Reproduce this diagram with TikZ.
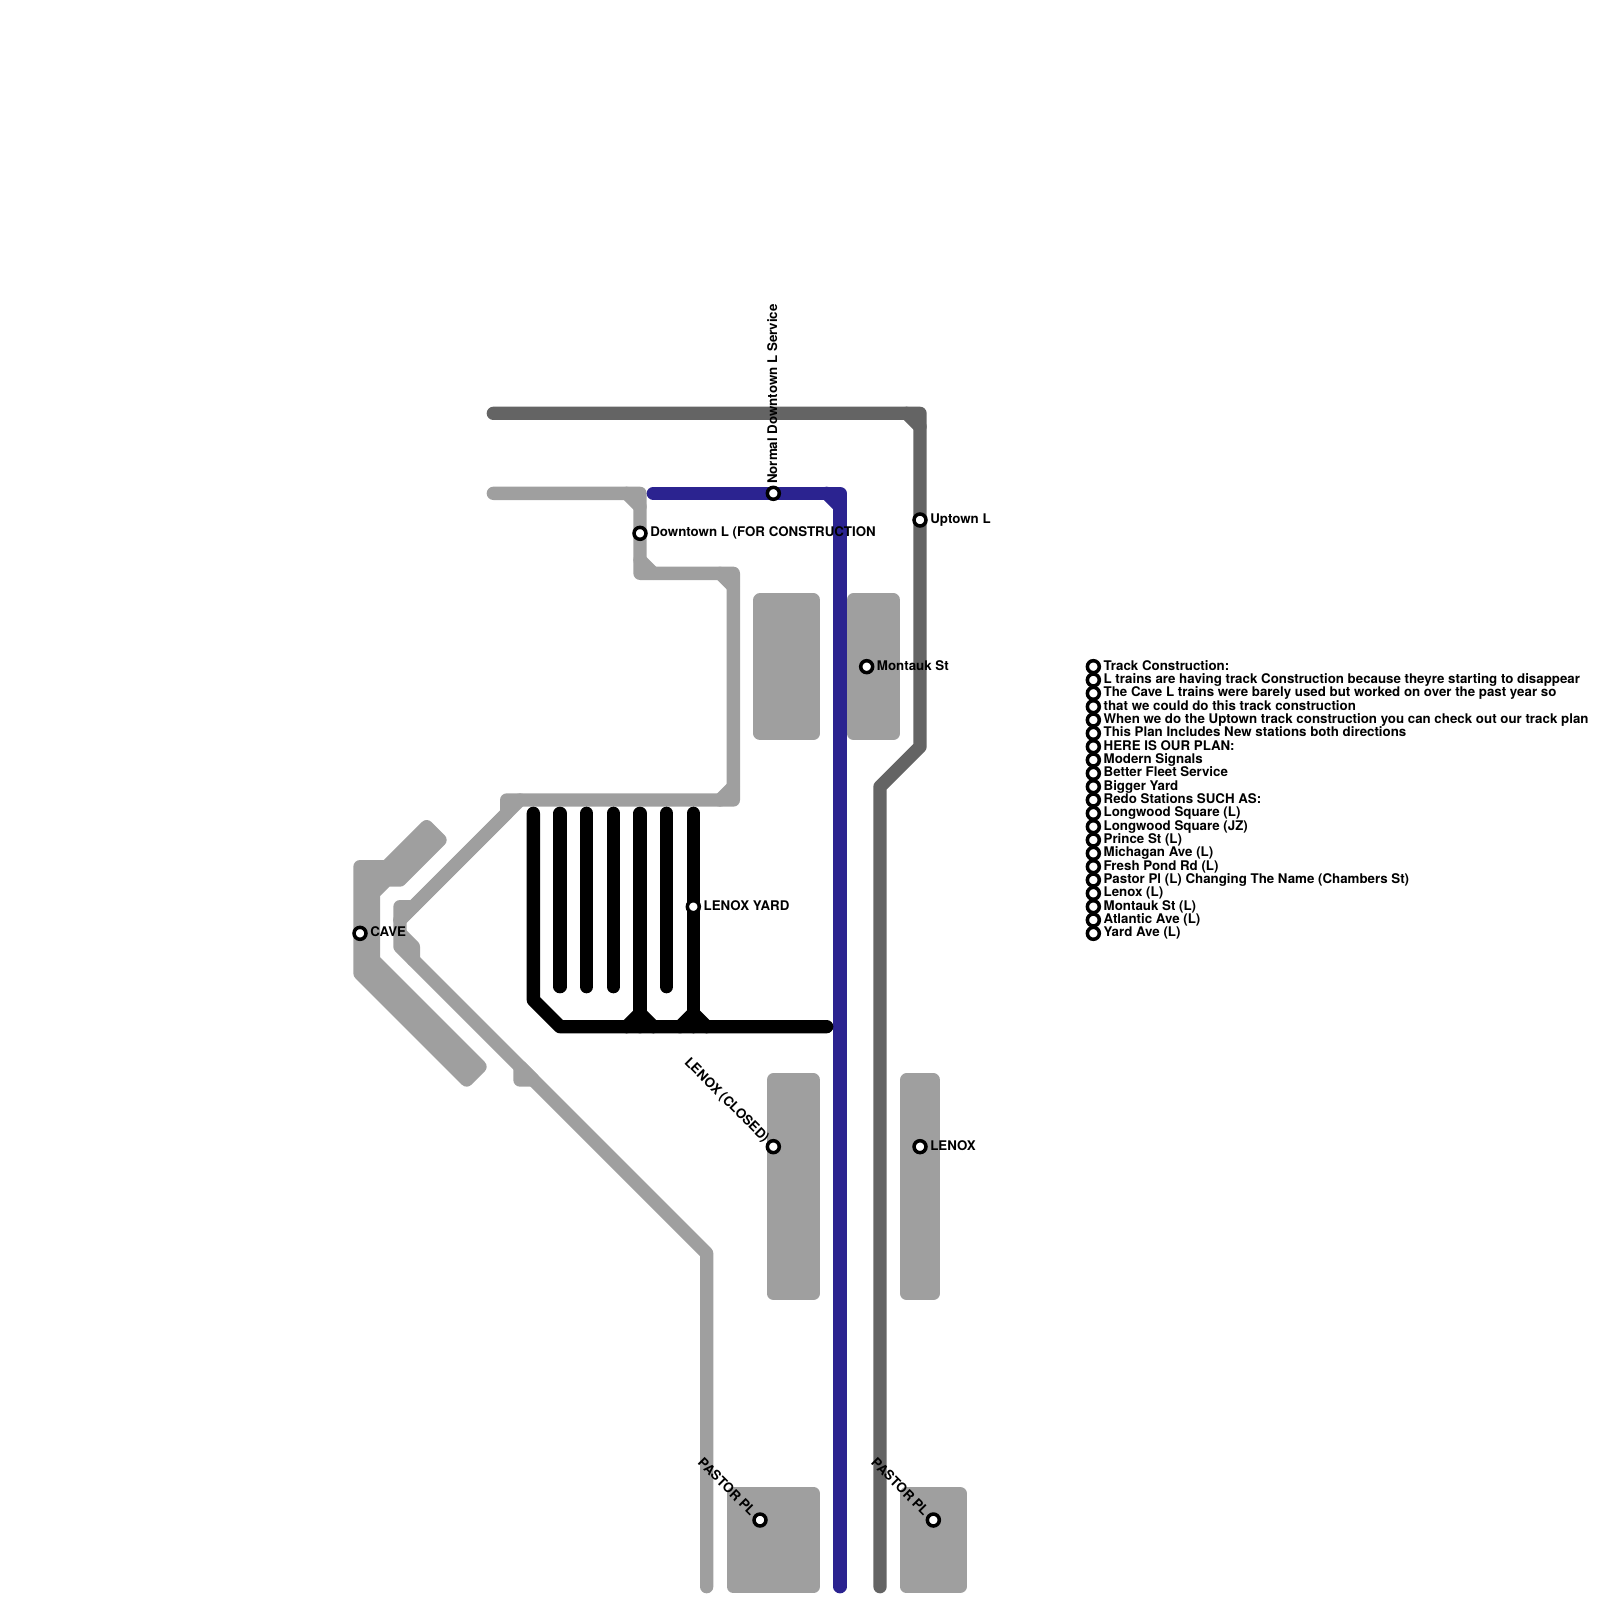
\documentclass[tikz,border=0pt]{standalone}
\usepackage{fontspec}
\setmainfont{TeX Gyre Heros}
\usetikzlibrary{positioning}
\definecolor{lightline}{HTML}{9F9F9F}
\definecolor{darkline}{HTML}{646464}
\definecolor{blueline}{HTML}{2B2390}
\tikzset{
  track/.style={line width=0.2cm,line cap=round,line join=round},
  block/.style={track,draw=lightline,fill=lightline},
  station/.style={circle,draw=black,fill=white,line width=1.5pt,inner sep=0pt,minimum size=5.1pt},
  stlabel/.style={font=\fontsize{5.68pt}{6pt}\selectfont\bfseries,inner sep=0pt,text=black,text height=5.1pt,text depth=1pt,yshift=0.5pt},
}
\begin{document}
\begin{tikzpicture}[x=0.2cm,y=-0.2cm]
\useasboundingbox (0,0) rectangle (120,120);

% light track
\draw[track,lightline] (37,37) -- (48,37) -- (48,43) -- (55,43) -- (55,60) -- (38,60) -- (38,61) -- (30,69);
\draw[track,lightline] (47,37) -- (48,38);
\draw[track,lightline] (48,42) -- (49,43);
\draw[track,lightline] (54,43) -- (55,44);
\draw[track,lightline] (55,59) -- (54,60);
\draw[track,lightline] (39,60) -- (30,69);
\draw[track,lightline] (31,68) -- (30,68) -- (30,71) -- (53,94) -- (53,119);
\draw[track,lightline] (30,70) -- (31,71) -- (31,72);
\draw[block] (39,80) -- (39,81) -- (40,81) -- cycle;

% cave platform
\draw[block] (27,65) -- (29,65) -- (32,62) -- (33,63) -- (30,66) -- (29,66) -- (28,67) -- (28,72) -- (36,80) -- (35,81) -- (27,73) -- cycle;

% platforms
\draw[block] (57,45) rectangle (61,55);
\draw[block] (64,45) rectangle (67,55);
\draw[block] (58,81) rectangle (61,97);
\draw[block] (68,81) rectangle (70,97);
\draw[block] (55,112) rectangle (61,119);
\draw[block] (68,112) rectangle (72,119);

% uptown track
\draw[track,darkline] (37,31) -- (69,31) -- (69,56) -- (66,59) -- (66,119);
\draw[track,darkline] (68,31) -- (69,32);

% downtown track
\draw[track,blueline] (49,37) -- (63,37) -- (63,119);
\draw[track,blueline] (62,37) -- (63,38);

% yard
\draw[track,black] (40,61) -- (40,75) -- (42,77) -- (62,77);
\draw[track,black] (42,61) -- (42,74);
\draw[track,black] (44,61) -- (44,74);
\draw[track,black] (46,61) -- (46,74);
\draw[track,black] (48,61) -- (48,77);
\draw[track,black] (50,61) -- (50,74);
\draw[track,black] (52,61) -- (52,77);
\draw[track,black] (47,77) -- (48,76) -- (49,77);
\draw[track,black] (51,77) -- (52,76) -- (53,77);

% stations
\node[station] (normal) at (58,37) {};
\node[station] (downtown) at (48,40) {};
\node[station] (uptown) at (69,39) {};
\node[station] (montauk) at (65,50) {};
\node[station] (yard) at (52,68) {};
\node[station] (cave) at (27,70) {};
\node[station] (closed) at (58,86) {};
\node[station] (lenox) at (69,86) {};
\node[station] (pastora) at (57,114) {};
\node[station] (pastorb) at (70,114) {};

\node[stlabel,rotate=90,anchor=west] at ([xshift=-0.4pt]normal.north) {Normal Downtown L Service};
\node[stlabel,right=0.9pt of downtown] {Downtown L (FOR CONSTRUCTION};
\node[stlabel,right=0.9pt of uptown] {Uptown L};
\node[stlabel,right=0.9pt of montauk] {Montauk St};
\node[stlabel,right=0.9pt of yard] {LENOX YARD};
\node[stlabel,right=0.9pt of cave] {CAVE};
\node[stlabel,rotate=-45,anchor=east] at ([xshift=-0.1pt]closed.north west) {LENOX (CLOSED)};
\node[stlabel,right=0.9pt of lenox] {LENOX};
\node[stlabel,rotate=-45,anchor=east] at ([xshift=-0.3pt,yshift=0pt]pastora.north west) {PASTOR PL};
\node[stlabel,rotate=-45,anchor=east] at ([xshift=-0.3pt,yshift=0pt]pastorb.north west) {PASTOR PL};

% notes
\node[station] (n1) at (82,50) {};
\node[station] (n2) at (82,51) {};
\node[station] (n3) at (82,52) {};
\node[station] (n4) at (82,53) {};
\node[station] (n5) at (82,54) {};
\node[station] (n6) at (82,55) {};
\node[station] (n7) at (82,56) {};
\node[station] (n8) at (82,57) {};
\node[station] (n9) at (82,58) {};
\node[station] (n10) at (82,59) {};
\node[station] (n11) at (82,60) {};
\node[station] (n12) at (82,61) {};
\node[station] (n13) at (82,62) {};
\node[station] (n14) at (82,63) {};
\node[station] (n15) at (82,64) {};
\node[station] (n16) at (82,65) {};
\node[station] (n17) at (82,66) {};
\node[station] (n18) at (82,67) {};
\node[station] (n19) at (82,68) {};
\node[station] (n20) at (82,69) {};
\node[station] (n21) at (82,70) {};

\node[stlabel,right=0.9pt of n1] {Track Construction:};
\node[stlabel,right=0.9pt of n2] {L trains are having track Construction because theyre starting to disappear};
\node[stlabel,right=0.9pt of n3] {The Cave L trains were barely used but worked on over the past year so};
\node[stlabel,right=0.9pt of n4] {that we could do this track construction};
\node[stlabel,right=0.9pt of n5] {When we do the Uptown track construction you can check out our track plan};
\node[stlabel,right=0.9pt of n6] {This Plan Includes New stations both directions};
\node[stlabel,right=0.9pt of n7] {HERE IS OUR PLAN:};
\node[stlabel,right=0.9pt of n8] {Modern Signals};
\node[stlabel,right=0.9pt of n9] {Better Fleet Service};
\node[stlabel,right=0.9pt of n10] {Bigger Yard};
\node[stlabel,right=0.9pt of n11] {Redo Stations SUCH AS:};
\node[stlabel,right=0.9pt of n12] {Longwood Square (L)};
\node[stlabel,right=0.9pt of n13] {Longwood Square (JZ)};
\node[stlabel,right=0.9pt of n14] {Prince St (L)};
\node[stlabel,right=0.9pt of n15] {Michagan Ave (L)};
\node[stlabel,right=0.9pt of n16] {Fresh Pond Rd (L)};
\node[stlabel,right=0.9pt of n17] {Pastor Pl (L) Changing The Name (Chambers St)};
\node[stlabel,right=0.9pt of n18] {Lenox (L)};
\node[stlabel,right=0.9pt of n19] {Montauk St (L)};
\node[stlabel,right=0.9pt of n20] {Atlantic Ave (L)};
\node[stlabel,right=0.9pt of n21] {Yard Ave (L)};
\end{tikzpicture}
\end{document}
